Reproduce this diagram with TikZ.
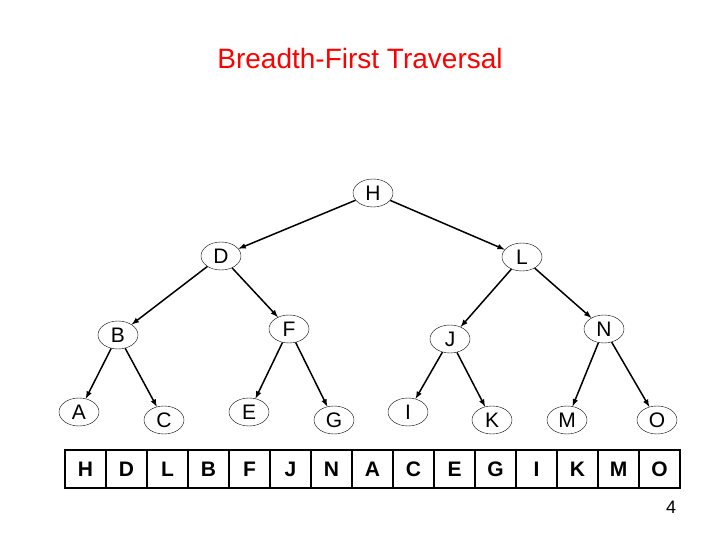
\documentclass[tikz,border=0pt]{standalone}
\usepackage{fontspec}
\setmainfont{Liberation Sans}
\usetikzlibrary{shapes.geometric}
\tikzset{
  >=latex,
  tnode/.style={ellipse,draw,thin,minimum width=40pt,minimum height=28pt,inner sep=0pt,font=\fontsize{21}{21}\selectfont},
  edge/.style={->,line width=1.5pt},
  cell/.style={font=\bfseries\fontsize{21}{21}\selectfont},
}
\begin{document}
\begin{tikzpicture}[x=1pt,y=-1pt]
  \useasboundingbox (0,0) rectangle (720,540);
  \node[red,font=\fontsize{28}{28}\selectfont] (title) at (360,58) {Breadth-First Traversal};

  % tree
  \foreach \n/\x/\y in {H/373/193, D/221/256, L/522/257, B/118/335, F/289/329,
      J/450/339, N/604/329, A/79/412, C/164/420, E/249/412, G/334/420,
      I/408/412, K/492/420, M/567/420, O/657/420}
    \node[tnode] (t\n) at (\x,\y) {\n};
  \foreach \p/\c in {H/D, H/L, D/B, D/F, L/J, L/N, B/A, B/C, F/E, F/G,
      J/I, J/K, N/M, N/O}
    \draw[edge] (t\p) -- (t\c);

  % queue
  \foreach \v [count=\i from 0] in {H,D,L,B,F,J,N,A,C,E,G,I,K,M,O}
    \node[cell] (q\i) at (65+20.5+41*\i,469) {\v};
  \foreach \i in {1,...,14}
    \draw[line width=1.5pt] (65+41*\i,450) -- (65+41*\i,488);
  \draw[line width=2.5pt] (65,450) rectangle (680,488);

  \node[font=\fontsize{18}{18}\selectfont] (page) at (671,507) {4};
\end{tikzpicture}
\end{document}
